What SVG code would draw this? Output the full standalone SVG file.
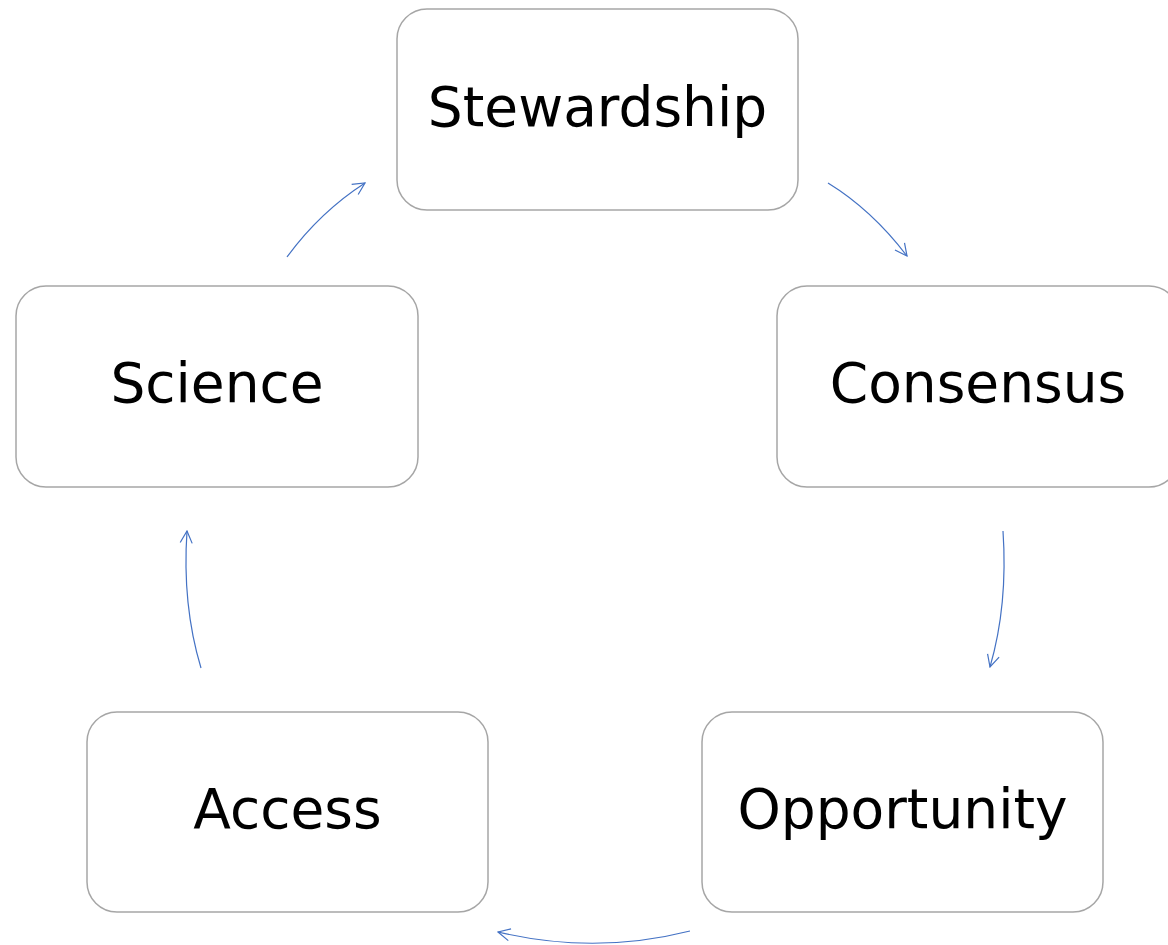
<svg xmlns="http://www.w3.org/2000/svg" width="1168" height="945" viewBox="0 0 1168 945">
<style>
.box{fill:#fff;stroke:#a6a6a6;stroke-width:1.5}
.lbl{font-family:"DejaVu Sans",Verdana,sans-serif;font-size:55px;fill:#000;text-anchor:middle}
.edge{fill:none;stroke:#4472c4;stroke-width:1.2;marker-end:url(#ah)}
</style>
<defs>
<marker id="ah" viewBox="0 0 14 14" refX="13" refY="7" markerWidth="14" markerHeight="14" markerUnits="userSpaceOnUse" orient="auto">
<path d="M1,1 L13,7 L1,13" fill="none" stroke="#4472c4" stroke-width="1.2"/>
</marker>
</defs>
<rect width="1168" height="945" fill="#fff"/>
<g id="stewardship"><rect class="box" x="397" y="9" width="401" height="201" rx="30"/><text class="lbl" x="597.5" y="126">Stewardship</text></g>
<g id="science"><rect class="box" x="16" y="286" width="402" height="201" rx="30"/><text class="lbl" x="217" y="402">Science</text></g>
<g id="consensus"><rect class="box" x="777" y="286" width="402" height="201" rx="30"/><text class="lbl" x="978" y="402">Consensus</text></g>
<g id="opportunity"><rect class="box" x="702" y="712" width="401" height="200" rx="30"/><text class="lbl" x="902.5" y="828">Opportunity</text></g>
<g id="access"><rect class="box" x="87" y="712" width="401" height="200" rx="30"/><text class="lbl" x="287.5" y="828">Access</text></g>
<g id="connectors">
<path class="edge" d="M287,257 Q320,212 365,183"/>
<path class="edge" d="M828,183 Q872,210 907,256"/>
<path class="edge" d="M1003,531 Q1008,605 990,667"/>
<path class="edge" d="M690,931 Q595,955 498,932"/>
<path class="edge" d="M201,668 Q182,605 187,531"/>
</g>
</svg>
